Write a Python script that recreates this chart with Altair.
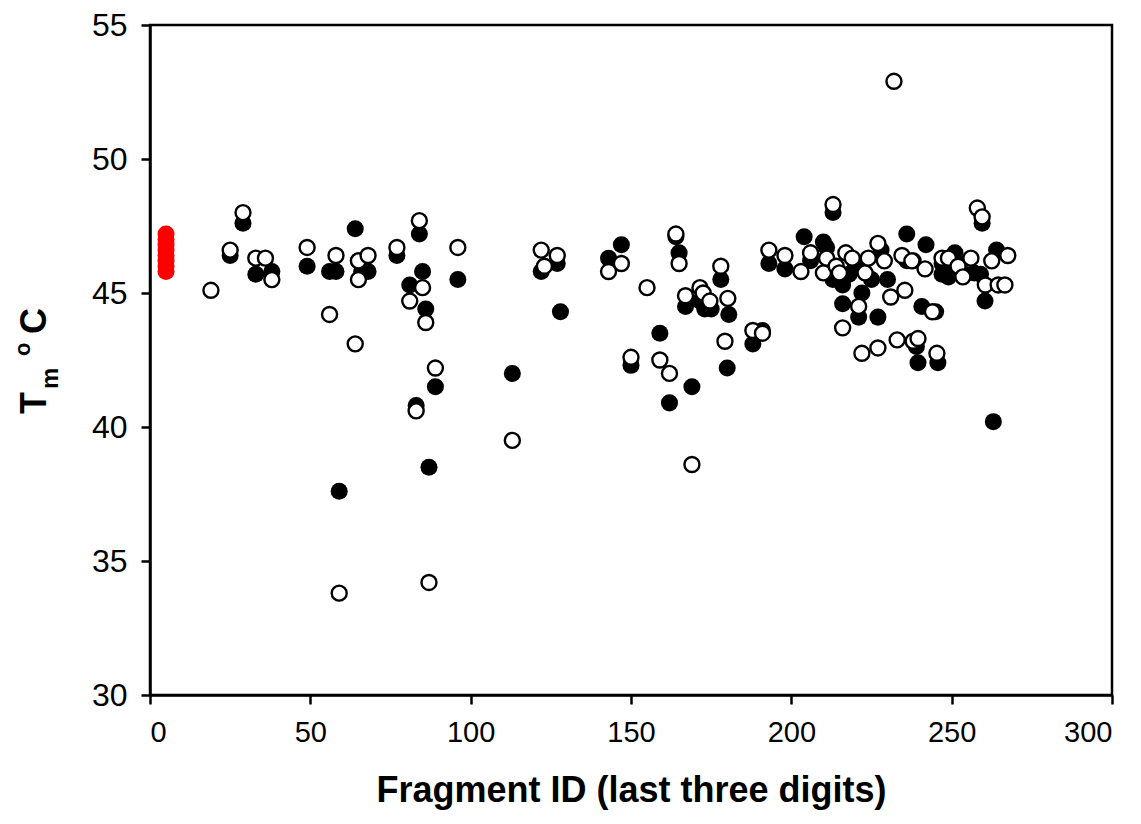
import altair as alt
import pandas as pd

# ---- data ----
filled_x = [25, 29, 33, 38, 49, 56, 58, 59, 64, 65, 66, 68, 77, 81, 83, 84, 85, 86, 87, 89,
            96, 113, 122, 127, 128, 143, 147, 150, 159, 162, 164, 165, 167, 169, 171.5, 173,
            175, 178, 180, 180.5, 188, 191, 193, 198, 204, 206, 210, 211, 213, 213, 216, 216,
            218, 220, 221, 222, 225, 227, 228, 230, 236, 236, 238, 239, 239.5, 240.7, 242,
            245, 245.7, 247, 247, 249, 250, 251, 252, 254, 257, 259, 259.5, 260.4, 263, 264]
filled_y = [46.4, 47.6, 45.7, 45.8, 46.0, 45.8, 45.8, 37.6, 47.4, 46.2, 45.8, 45.8, 46.4, 45.3,
            40.8, 47.2, 45.8, 44.4, 38.5, 41.5, 45.5, 42.0, 45.8, 46.1, 44.3, 46.3, 46.8, 42.3,
            43.5, 40.9, 47.1, 46.5, 44.5, 41.5, 44.7, 44.4, 44.4, 45.5, 42.2, 44.2, 43.1, 43.6,
            46.1, 45.9, 47.1, 46.2, 46.9, 46.7, 48.0, 45.5, 45.3, 44.6, 45.7, 46.0, 44.1, 45.0,
            45.5, 44.1, 46.6, 45.5, 46.2, 47.2, 46.2, 43.0, 42.4, 44.5, 46.8, 44.3, 42.4, 45.7,
            46.1, 45.6, 45.9, 46.5, 46.1, 45.7, 45.75, 45.7, 47.6, 44.7, 40.2, 46.6]

open_x = [19, 25, 29, 33, 36, 38, 49, 56, 58, 59, 64, 65, 65, 68, 77, 81, 83, 84, 85, 86, 87,
          89, 96, 113, 122, 123, 127, 143, 147, 150, 155, 159, 162, 164, 165, 167, 169, 171.5,
          172.5, 174.6, 178, 179.3, 180.2, 188, 191, 193, 198, 203, 206, 210, 211, 213, 214,
          215, 216, 217, 219, 221, 222, 223, 224, 227, 227, 229, 231, 232, 233, 234.5, 235.4,
          237.6, 238, 239.5, 241.7, 244, 245.4, 247, 249, 252, 253.5, 256, 258, 259.5, 260.5,
          262.5, 264.5, 266.6, 267.5]
open_y = [45.1, 46.6, 48.0, 46.3, 46.3, 45.5, 46.7, 44.2, 46.4, 33.8, 43.1, 46.2, 45.5, 46.4,
          46.7, 44.7, 40.6, 47.7, 45.2, 43.9, 34.2, 42.2, 46.7, 39.5, 46.6, 46.0, 46.4, 45.8,
          46.1, 42.6, 45.2, 42.5, 42.0, 47.2, 46.1, 44.9, 38.6, 45.2, 45.0, 44.7, 46.0, 43.2,
          44.8, 43.6, 43.5, 46.6, 46.4, 45.8, 46.5, 45.75, 46.3, 48.3, 46.0, 45.75, 43.7, 46.5,
          46.3, 44.5, 42.75, 45.75, 46.3, 46.85, 42.95, 46.2, 44.85, 52.9, 43.25, 46.4, 45.1,
          46.2, 43.2, 43.3, 45.9, 44.3, 42.75, 46.3, 46.3, 46.0, 45.6, 46.3, 48.17, 47.84, 45.3,
          46.2, 45.3, 45.3, 46.4]

red_x = [5, 5, 5, 5, 5, 5, 5, 5]
red_y = [45.8, 46.0, 46.2, 46.4, 46.6, 46.8, 47.0, 47.2]

x_ticks = [0, 50, 100, 150, 200, 250, 300]
y_ticks = [30, 35, 40, 45, 50, 55]

df_f = pd.DataFrame({"x": filled_x, "y": filled_y})
df_o = pd.DataFrame({"x": open_x, "y": open_y})
df_r = pd.DataFrame({"x": red_x, "y": red_y})

X = alt.X("x:Q",
          scale=alt.Scale(domain=[0, 300], nice=False),
          axis=alt.Axis(values=x_ticks, title="Fragment ID (last three digits)",
                        labelFont="Liberation Sans, Arial",
                        labelFontSize=29, labelPadding=14,
                        titleFont="Liberation Sans, Arial",
                        titleFontSize=36, titleFontWeight="bold", titlePadding=26))
Y = alt.Y("y:Q",
          scale=alt.Scale(domain=[30, 55], nice=False),
          axis=alt.Axis(values=y_ticks, title=None,
                        labelFont="Liberation Sans, Arial", labelFontSize=32,
                        labelPadding=14))

filled = alt.Chart(df_f).mark_circle(size=290, color="black", opacity=1).encode(x=X, y=Y)
opened = alt.Chart(df_o).mark_point(shape="circle", size=225, filled=True, fill="white",
                                    stroke="black", strokeWidth=2.4, opacity=1).encode(x=X, y=Y)
red = alt.Chart(df_r).mark_circle(size=290, color="#ff0000", opacity=1).encode(x=X, y=Y)

one = pd.DataFrame({"a": [0]})


def ttl(txt, px, py, fs):
    return alt.Chart(one).mark_text(
        text=txt, angle=270, align="left", baseline="alphabetic",
        font="Liberation Sans, Arial", fontSize=fs, fontWeight="bold", color="black"
    ).encode(x=alt.value(px), y=alt.value(py))


title_layers = [
    ttl("T", -104, 389, 36),
    ttl("m", -92, 364, 24),
    ttl("o", -120, 331, 22),
    ttl("C", -104, 309, 36),
]

chart = alt.layer(filled, opened, red, *title_layers).properties(
    width=962, height=670,
    autosize=alt.AutoSizeParams(type="none"),
    padding={"left": 142, "top": 17, "right": 21, "bottom": 121},
).configure_view(stroke="black", strokeWidth=2.5).configure_axis(
    grid=False, domainColor="black", domainWidth=2.5, tickColor="black", tickWidth=2.5,
    tickSize=9, labelColor="black", titleColor="black"
)

chart.save("out.html", embed_options={"renderer": "svg", "actions": False})
